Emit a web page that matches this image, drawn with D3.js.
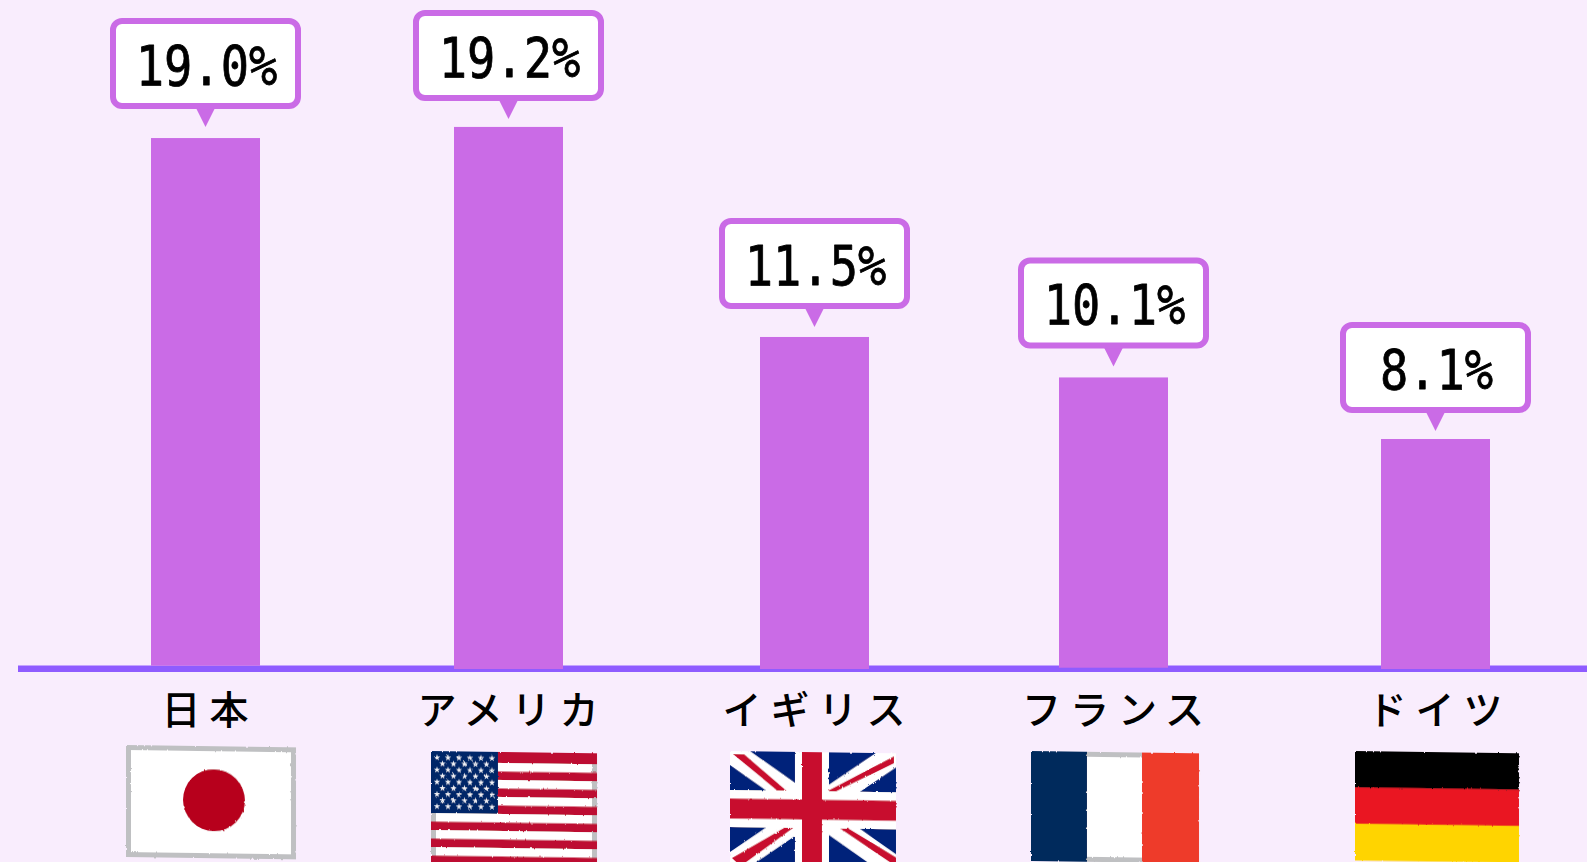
<!DOCTYPE html>
<html lang="ja">
<head>
<meta charset="utf-8">
<script src="https://cdn.jsdelivr.net/npm/d3@7"></script>
<style>
  html, body { margin: 0; padding: 0; background: #f9edfd; overflow: hidden; }
  svg { display: block; }
</style>
</head>
<body>
<svg id="chart" width="1587" height="862"></svg>
<script>
// data
const countries = ["日本", "アメリカ", "イギリス", "フランス", "ドイツ"];
const valueLabels = ["19.0%", "19.2%", "11.5%", "10.1%", "8.1%"];
// bar ends as drawn in the picture, they do not follow the labels exactly
const barValues = [18.63, 19.02, 11.65, 10.23, 8.07];
const barStarts = [0.115, 0, 0, 0.045, 0];

// layout
const W = 1587, H = 862;
const barCentres = [205.5, 508.5, 814.5, 1113.5, 1435.5];
const tipGaps = [11, 8, 10, 11, 8];
const flagLefts = [126, 431, 730, 1031, 1355];
const barW = 109;
const boxW = 185, boxH = 85;

const purple = "#ca6be6";
const axisColor = "#8f5cff";
const grey = "#bfc0c2";

const xScale = d3.scaleOrdinal(countries, barCentres);
const flagX = d3.scaleOrdinal(countries, flagLefts);
const yScale = d3.scaleLinear([0, 20], [669, 99]);

const svg = d3.select("#chart");

const defs = svg.append("defs");
const rough = defs.append("filter").attr("id", "rough")
    .attr("x", "-5%").attr("y", "-5%").attr("width", "110%").attr("height", "110%");
rough.append("feTurbulence").attr("type", "fractalNoise").attr("baseFrequency", 0.35)
    .attr("numOctaves", 2).attr("seed", 4).attr("result", "n");
rough.append("feDisplacementMap").attr("in", "SourceGraphic").attr("in2", "n")
    .attr("scale", 2.2);

// axis line
svg.append("rect")
    .attr("x", 18).attr("y", 665.5)
    .attr("width", W - 18).attr("height", 6.5)
    .attr("fill", axisColor);

// bars
svg.selectAll(".bar")
    .data(countries)
    .enter()
    .append("rect")
    .attr("class", "bar")
    .attr("x", d => xScale(d) - barW / 2)
    .attr("width", barW)
    .attr("y", (d, i) => yScale(barValues[i]))
    .attr("height", (d, i) => yScale(barStarts[i]) - yScale(barValues[i]))
    .attr("fill", purple);

// callouts
const callout = svg.selectAll(".callout")
    .data(countries)
    .enter()
    .append("g")
    .attr("class", "callout")
    .attr("transform", (d, i) => `translate(${xScale(d)}, ${yScale(barValues[i]) - tipGaps[i]})`);

callout.append("path")
    .attr("d", "M-10,-20 L10,-20 L0,0 Z")
    .attr("fill", purple);

callout.append("rect")
    .attr("x", -boxW / 2)
    .attr("y", -21 - boxH)
    .attr("width", boxW)
    .attr("height", boxH)
    .attr("rx", 9)
    .attr("fill", "#fff")
    .attr("stroke", purple)
    .attr("stroke-width", 6);

callout.append("text")
    .attr("transform", "translate(1, -42) scale(0.84, 1)")
    .attr("text-anchor", "middle")
    .attr("font-family", "'DejaVu Sans Mono'")
    .attr("font-size", 56)
    .attr("fill", "#000")
    .attr("stroke", "#000")
    .attr("stroke-width", 0.8)
    .attr("stroke-linejoin", "round")
    .text((d, i) => valueLabels[i]);

// category names
svg.selectAll(".country")
    .data(countries)
    .enter()
    .append("text")
    .attr("class", "country")
    .attr("x", d => xScale(d) + 4)
    .attr("y", 723.5)
    .attr("text-anchor", "middle")
    .attr("font-family", "'Noto Sans CJK JP'")
    .attr("font-size", 39)
    .attr("font-weight", 500)
    .attr("letter-spacing", 9)
    .attr("fill", "#000")
    .text(d => d);

// flags, hand drawn look comes from the filter
function flagBase(g, w, h){
    g.append("rect").attr("x", 2.5).attr("y", 2.5)
        .attr("width", w - 5).attr("height", h - 5)
        .attr("fill", "#fff").attr("stroke", grey).attr("stroke-width", 5);
}

function japan(g, w, h){
    flagBase(g, w, h);
    g.append("circle").attr("cx", w / 2 + 3).attr("cy", h / 2 - 2)
        .attr("r", 31).attr("fill", "#b7001f");
}

function usa(g, w, h){
    flagBase(g, w, h);
    const stripes = d3.scaleBand(d3.range(13), [2.5, 113]);
    g.append("rect").attr("width", w).attr("height", 3).attr("fill", "#bd0f32");
    g.selectAll(".stripe")
        .data(d3.range(0, 13, 2))
        .enter()
        .append("rect")
        .attr("x", 0)
        .attr("y", d => stripes(d))
        .attr("width", w)
        .attr("height", stripes.bandwidth())
        .attr("fill", "#bd0f32");
    const cantonW = 67, cantonH = 62;
    g.append("rect").attr("width", cantonW).attr("height", cantonH).attr("fill", "#002868");
    const star = d3.symbol().type(d3.symbolStar).size(13)();
    d3.range(9).forEach(row => {
        const n = row % 2 ? 5 : 6;
        d3.range(n).forEach(col => {
            g.append("path")
                .attr("d", star)
                .attr("transform", `translate(${(row % 2 ? 11.5 : 6) + col * 11}, ${6.5 + row * 6.1})`)
                .attr("fill", "#f1f1f5");
        });
    });
}

function uk(g, w, h){
    defs.append("clipPath").attr("id", "ukClip")
        .append("rect").attr("width", w).attr("height", h);
    const inner = g.append("g").attr("clip-path", "url(#ukClip)");
    inner.append("rect").attr("width", w).attr("height", h).attr("fill", "#00217a");
    const cx = w / 2 - 1, cy = 57.5;
    [[0, 0, w, cy * 2], [w, 0, 0, cy * 2]].forEach(l => {
        inner.append("line")
            .attr("x1", l[0]).attr("y1", l[1]).attr("x2", l[2]).attr("y2", l[3])
            .attr("stroke", "#fff").attr("stroke-width", 23);
    });
    const reds = [
        [[3, 3], [14, 3], [58.6, 40.7], [49.4, 40.7]],
        [[164, 3], [164, 10], [104, 40], [95, 40]],
        [[56, 75], [64.6, 75], [10.6, 115], [2, 107]],
        [[108.6, 75], [117, 75], [166, 104], [166, 113]]
    ];
    inner.selectAll(".diag")
        .data(reds)
        .enter()
        .append("path")
        .attr("d", d => d3.line()(d) + "Z")
        .attr("fill", "#c8102e");
    inner.append("rect").attr("x", cx - 17).attr("width", 34).attr("height", h).attr("fill", "#fff");
    inner.append("rect").attr("y", cy - 18.5).attr("width", w).attr("height", 37).attr("fill", "#fff");
    inner.append("rect").attr("x", cx - 10).attr("width", 20).attr("height", h).attr("fill", "#c8102e");
    inner.append("rect").attr("y", cy - 10).attr("width", w).attr("height", 20).attr("fill", "#c8102e");
}

function france(g, w, h){
    flagBase(g, w, h);
    g.append("rect").attr("width", 56).attr("height", h).attr("fill", "#002a5c");
    g.append("rect").attr("x", 111).attr("width", w - 111).attr("height", h).attr("fill", "#ee3a2c");
}

function germany(g, w, h){
    const band = d3.scaleBand(["#000000", "#ea1620", "#ffd400"], [0, h]);
    band.domain().forEach(c => {
        g.append("rect").attr("y", band(c)).attr("width", w)
            .attr("height", band.bandwidth() + 0.5).attr("fill", c);
    });
}

const flagDrawers = [japan, usa, uk, france, germany];
const flagTops = [745, 751, 751, 751, 751];
const flagWidths = [170, 166, 166, 168, 164];
const flagHeights = [112, 113, 118, 110, 109];

countries.forEach((c, i) => {
    const g = svg.append("g")
        .attr("class", "flag")
        .attr("filter", "url(#rough)")
        .attr("transform", `translate(${flagX(c)}, ${flagTops[i]}) skewY(0.8)`);
    flagDrawers[i](g, flagWidths[i], flagHeights[i]);
});
</script>
</body>
</html>
